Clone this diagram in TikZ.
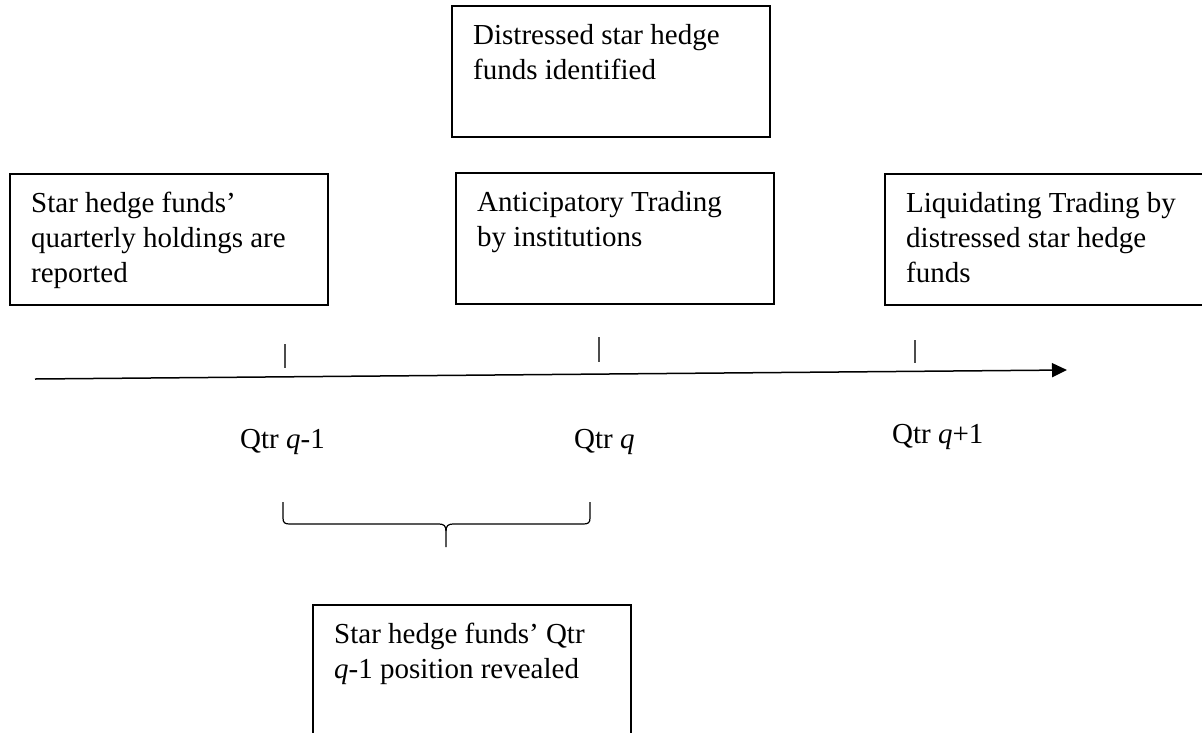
\documentclass[tikz,border=0pt]{standalone}
\usepackage{fontspec}
\setmainfont{Liberation Serif}
\usetikzlibrary{arrows.meta}
\begin{document}
\begin{tikzpicture}[x=1pt,y=-1pt,
  box/.style={draw=black, line width=1.6pt, anchor=north west, minimum width=318pt, minimum height=131pt, inner sep=0pt},
  txt/.style={anchor=north west, align=left, inner sep=0pt, font=\fontsize{29}{35}\selectfont},
  tickline/.style={draw=black!70, line width=1.3pt},
  qlbl/.style={anchor=base west, inner sep=0pt, font=\fontsize{29}{35}\selectfont},
  bracepath/.style={draw=black, line width=1.2pt}]
\useasboundingbox (0,0) rectangle (1202,732);
% boxes
\node[box] (b1) at (9,173) {};
\node[txt] (t1) at ([xshift=22pt,yshift=-19pt]b1.north west) {Star hedge funds’\\quarterly holdings are\\reported};
\node[box] (b2) at (451,5) {};
\node[txt] (t2) at ([xshift=22pt,yshift=-19pt]b2.north west) {Distressed star hedge\\funds identified};
\node[box] (b3) at (455,172) {};
\node[txt] (t3) at ([xshift=22pt,yshift=-19pt]b3.north west) {Anticipatory Trading\\by institutions};
\node[box] (b4) at (884,173) {};
\node[txt] (t4) at ([xshift=22pt,yshift=-19pt]b4.north west) {Liquidating Trading by\\distressed star hedge\\funds};
\node[box] (b5) at (312,604) {};
\node[txt] (t5) at ([xshift=22pt,yshift=-19pt]b5.north west) {Star hedge funds’ Qtr\\\textit{q}-1 position revealed};
% time axis
\coordinate (a0) at (35,379);
\coordinate (a1) at (1067,370);
\draw[line width=1.5pt, -{Triangle[length=15pt,width=14pt]}] (a0) -- (a1);
% ticks
\coordinate (k1t) at (285,344); \coordinate (k1b) at (285,368);
\coordinate (k2t) at (599,337); \coordinate (k2b) at (599,362);
\coordinate (k3t) at (915,340); \coordinate (k3b) at (915,363);
\draw[tickline] (k1t) -- (k1b);
\draw[tickline] (k2t) -- (k2b);
\draw[tickline] (k3t) -- (k3b);
% quarter labels
\node[qlbl] (q1) at (240,448) {Qtr \textit{q}-1};
\node[qlbl] (q2) at (574,448) {Qtr \textit{q}};
\node[qlbl] (q3) at (892,443) {Qtr \textit{q}+1};
% brace
\coordinate (bl) at (283,502);
\coordinate (br) at (590,502);
\coordinate (bm) at (446,547);
\draw[bracepath] (bl) -- (283,518) .. controls (283,523) and (285,524) .. (290,524) -- (439,524) .. controls (444,524) and (446,526) .. (446,531) -- (bm);
\draw[bracepath] (446,531) .. controls (446,526) and (448,524) .. (453,524) -- (583,524) .. controls (588,524) and (590,523) .. (590,518) -- (br);
\end{tikzpicture}
\end{document}
